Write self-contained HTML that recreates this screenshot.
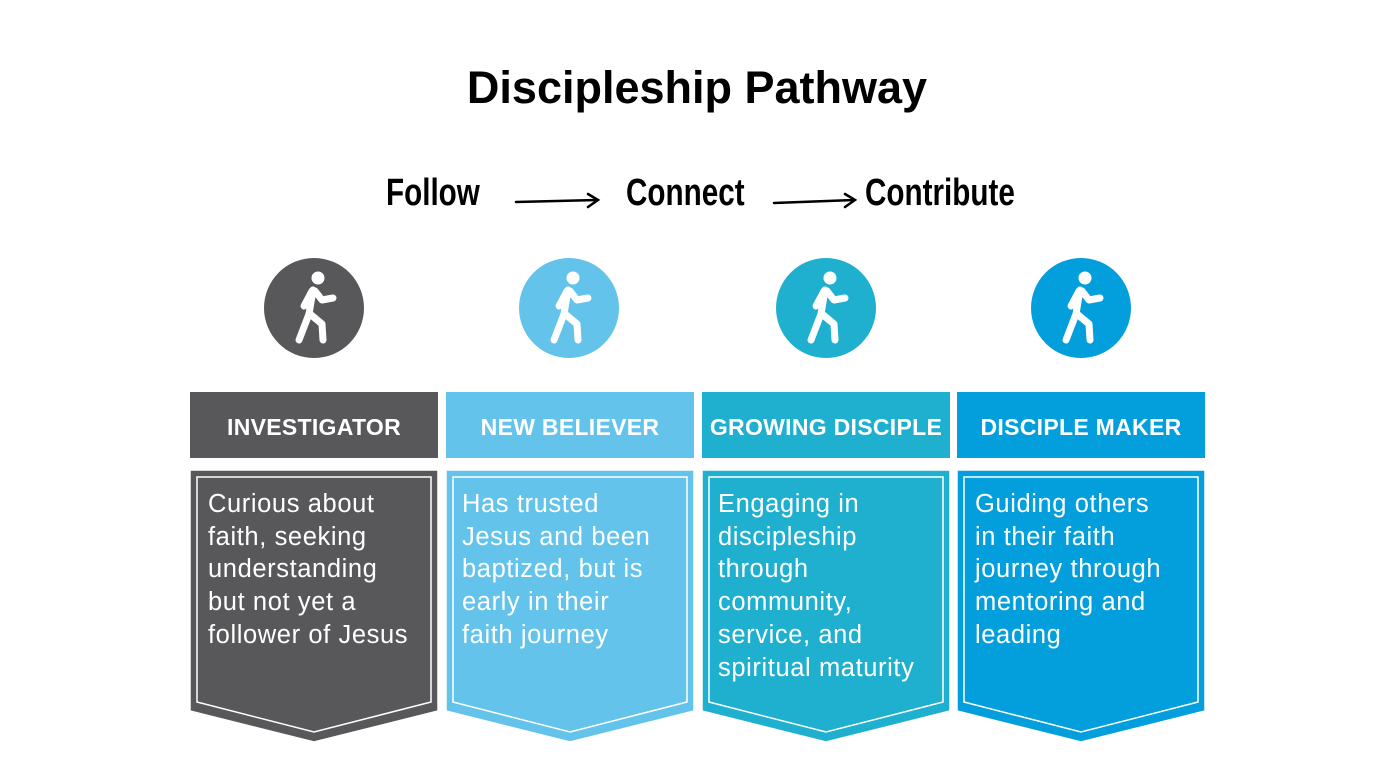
<!DOCTYPE html>
<html><head><style>
body{margin:0;width:1394px;height:784px;background:#fff;position:relative;font-family:"Liberation Sans",sans-serif;overflow:hidden}
.t{position:absolute;left:0;width:1394px;top:62px;text-align:center;font-weight:bold;font-size:45px;color:#000}
.hw{position:absolute;top:172px;font-size:38px;color:#000;transform-origin:0 0;transform:scaleX(0.78);font-weight:bold}
.c{position:absolute;width:100px;height:100px;border-radius:50%;top:258px}
.h{position:absolute;top:392px;width:248px;height:66px;color:#fff;font-weight:bold;font-size:23px;line-height:70px;text-align:center;letter-spacing:0.3px}
.tx{position:absolute;top:488px;color:#fff;font-size:25.5px;line-height:32.7px;width:240px;white-space:nowrap;letter-spacing:0.6px}
</style></head><body>
<div class="t">Discipleship Pathway</div>
<div class="hw" style="left:386px">Follow</div>
<div class="hw" style="left:626px">Connect</div>
<div class="hw" style="left:865px">Contribute</div>
<svg style="position:absolute;left:0;top:0" width="1394" height="784">
<g stroke="#000" stroke-width="2.5" fill="none" stroke-linecap="round">
<path d="M516 202 L597 200 M588 194 L598 200 L588 207"/>
<path d="M774 203 L854 200 M845 194 L855 200 L845 207"/>
</g>
</svg>
<div class="c" style="left:264px;background:#58585a"></div>
<div class="c" style="left:519px;background:#63c3ea"></div>
<div class="c" style="left:776px;background:#1fb0d0"></div>
<div class="c" style="left:1031px;background:#039fdc"></div>
<svg style="position:absolute;left:0;top:0" width="1394" height="784">
<defs><g id="w" fill="#fff" stroke="#fff" stroke-linecap="round" stroke-linejoin="round">
<circle cx="4" cy="-30" r="6.5" stroke="none"/>
<path d="M-1 -18 L-5 6 M-2 -17 L-10 -2 M1 -17 L8 -8 L19 -10 M-5 6 L-15 32 M-4 6 L8 16 L9 32" stroke-width="7" fill="none"/>
</g></defs>
<use href="#w" x="314" y="308"/><use href="#w" x="569" y="308"/><use href="#w" x="826" y="308"/><use href="#w" x="1081" y="308"/>
<g stroke="#fff" stroke-width="1.5">
<path d="M190 470h248v241l-124 31l-124-31z" fill="#58585a"/>
<path d="M197 477h234v225l-117 30l-117-30z" fill="none"/>
<path d="M446 470h248v241l-124 31l-124-31z" fill="#63c3ea"/>
<path d="M453 477h234v225l-117 30l-117-30z" fill="none"/>
<path d="M702 470h248v241l-124 31l-124-31z" fill="#1fb0d0"/>
<path d="M709 477h234v225l-117 30l-117-30z" fill="none"/>
<path d="M957 470h248v241l-124 31l-124-31z" fill="#039fdc"/>
<path d="M964 477h234v225l-117 30l-117-30z" fill="none"/>
</g>
</svg>
<div class="h" style="left:190px;background:#58585a">INVESTIGATOR</div>
<div class="h" style="left:446px;background:#63c3ea">NEW BELIEVER</div>
<div class="h" style="left:702px;background:#1fb0d0">GROWING DISCIPLE</div>
<div class="h" style="left:957px;background:#039fdc">DISCIPLE MAKER</div>
<div class="tx" style="left:208px">Curious about<br>faith, seeking<br>understanding<br>but not yet a<br>follower of Jesus</div>
<div class="tx" style="left:462px">Has trusted<br>Jesus and been<br>baptized, but is<br>early in their<br>faith journey</div>
<div class="tx" style="left:718px">Engaging in<br>discipleship<br>through<br>community,<br>service, and<br>spiritual maturity</div>
<div class="tx" style="left:975px">Guiding others<br>in their faith<br>journey through<br>mentoring and<br>leading</div>
</body></html>
